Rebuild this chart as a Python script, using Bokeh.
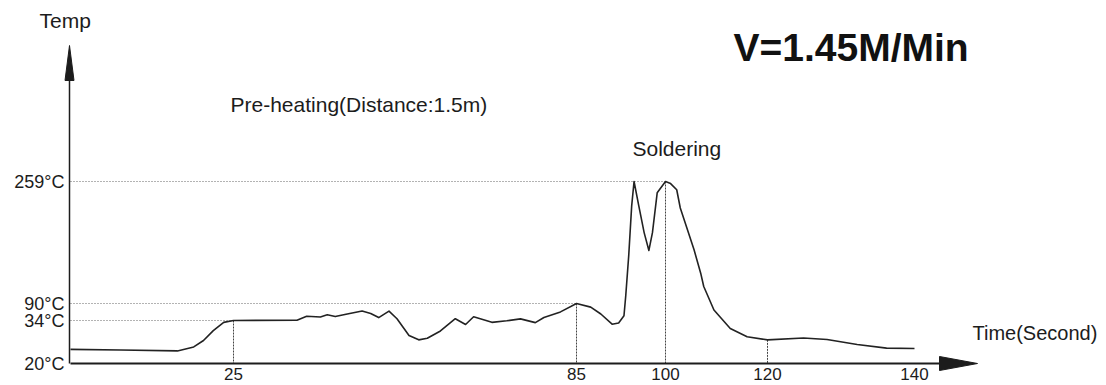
import numpy as np
from bokeh.plotting import figure
from bokeh.models import Range1d, ColumnDataSource
from bokeh.core.properties import value
from bokeh.embed import file_html
from bokeh.resources import INLINE

# ---------------- data ----------------
time_s = [0, 7.7, 16.4, 18.9, 20.4, 21.9, 23.5, 25, 36.1, 37.8, 40.2, 41.4, 42.8,
          44.9, 47.5, 49.0, 50.4, 52.2, 53.6, 55.7, 57.4, 58.9, 61.2, 63.8, 65.6,
          67.0, 70.2, 72.8, 75.2, 77.8, 79.3, 82.2, 85, 87.4, 89.1, 91.0, 92.1,
          93.0, 93.3, 93.8, 94.3, 94.7, 95.5, 96.4, 97.2, 97.8, 98.6, 100, 101.0,
          102.2, 102.9, 105.6, 106.9, 107.5, 109.5, 112.7, 116.0, 120, 124.9,
          128.1, 132.2, 136.2, 140]
temp_c = [24.6, 24.4, 24.1, 25.4, 27.5, 30.7, 33.4, 34, 35.0, 47.8, 45.4, 52.8,
          46.9, 55.4, 65.0, 57.1, 43.6, 65.0, 39.9, 29.1, 27.7, 28.2, 30.6, 39.9,
          32.7, 46.2, 33.4, 33.9, 39.3, 33.3, 43.9, 62.3, 90, 78.1, 55.4, 32.8,
          33.2, 49.5, 100.7, 156.1, 225.2, 259, 225.2, 188.2, 163.5, 188.1, 243.3,
          259, 256.1, 247.6, 222.3, 164.4, 132.0, 113.5, 68.6, 31.4, 28.7, 27.7,
          28.3, 27.8, 26.2, 25.0, 24.9]

temp_ticks = [20, 34, 90, 259]
temp_tick_labels = ["20°C", "34°C", "90°C", "259°C"]
time_ticks = [25, 85, 100, 120, 140]
time_tick_labels = ["25", "85", "100", "120", "140"]

# dotted guide lines: (time, temperature) markers
hguide_times = [25, 85, 100]
hguide_temps = [34, 90, 259]
vguide_times = [25, 85, 100, 120]

speed_text = "V=1.45M/Min"
preheat_text = "Pre-heating(Distance:1.5m)"
solder_text = "Soldering"
x_title = "Time(Second)"
y_title = "Temp"

# ---------------- schematic (non-linear) axis layout ----------------
# The original drawing uses uneven spacing on both axes; these knots
# map the data values onto the drawing's layout positions.
TIME_KNOTS = [0, 25, 85, 100, 120, 140]
TIME_POS = [70, 233, 576, 665, 767, 914]
TEMP_KNOTS = [20, 34, 90, 259]
TEMP_POS = [0, 43, 60, 182]


def tx(t):
    return np.interp(t, TIME_KNOTS, TIME_POS)


def ty(v):
    return np.interp(v, TEMP_KNOTS, TEMP_POS)


FONT = value("Liberation Sans")
INK = "#1c1c1c"

p = figure(width=1106, height=385, output_backend="svg", toolbar_location=None,
           x_range=Range1d(0, 1106), y_range=Range1d(-22, 363),
           x_axis_type=None, y_axis_type=None, min_border=0,
           outline_line_color=None, background_fill_color="white",
           border_fill_color="white")
p.grid.visible = False

x0 = TIME_POS[0]

# horizontal dotted guides from the temperature axis to the marked points
p.segment(x0=[x0] * len(hguide_times), y0=ty(hguide_temps).tolist(),
          x1=tx(hguide_times).tolist(), y1=ty(hguide_temps).tolist(),
          line_color="#666666", line_width=1, line_dash="1 2")

# vertical dotted guides from the curve down to the time axis
vg_temps = np.interp(vguide_times, time_s, temp_c)
p.segment(x0=tx(vguide_times).tolist(), y0=ty(vg_temps).tolist(),
          x1=tx(vguide_times).tolist(), y1=[0] * len(vguide_times),
          line_color="#444444", line_width=1, line_dash="2 1")

# temperature profile
src = ColumnDataSource(dict(x=tx(time_s), y=ty(temp_c)))
p.line("x", "y", source=src, line_color="#222222", line_width=1.6,
       line_join="round")

# axes drawn as arrows
p.segment(x0=[x0, x0 - 1], y0=[0, 0], x1=[939, x0 - 1], y1=[0, 283],
          line_color=INK, line_width=[2, 1.5])
p.patches(xs=[[939, 977, 939], [x0 - 5.5, x0 - 1, x0 + 3.5]],
          ys=[[-7, 0, 7], [283, 318, 283]],
          fill_color=INK, line_color=INK, line_width=1)

# tick labels
p.text(x=[x0 - 6] * len(temp_ticks), y=ty(temp_ticks).tolist(),
       text=temp_tick_labels, text_font=FONT, text_font_size="18px",
       text_color=INK, text_align="right", text_baseline="middle")
p.text(x=tx(time_ticks).tolist(), y=[-10] * len(time_ticks),
       text=time_tick_labels, text_font=FONT, text_font_size="17px",
       text_color=INK, text_align="center", text_baseline="middle")

# titles and annotations
p.text(x=[39], y=[343], text=[y_title], text_font=FONT, text_font_size="21px",
       text_color=INK, text_baseline="middle")
p.text(x=[972], y=[31], text=[x_title], text_font=FONT, text_font_size="20px",
       text_color=INK, text_baseline="middle")
p.text(x=[733], y=[316], text=[speed_text], text_font=FONT,
       text_font_size="39px", text_font_style="bold", text_color="#111111",
       text_baseline="middle")
p.text(x=[230], y=[259], text=[preheat_text], text_font=FONT,
       text_font_size="21px", text_color=INK, text_baseline="middle")
p.text(x=[632], y=[215], text=[solder_text], text_font=FONT,
       text_font_size="21px", text_color=INK, text_baseline="middle")

open("out.html", "w").write(file_html(p, INLINE))
